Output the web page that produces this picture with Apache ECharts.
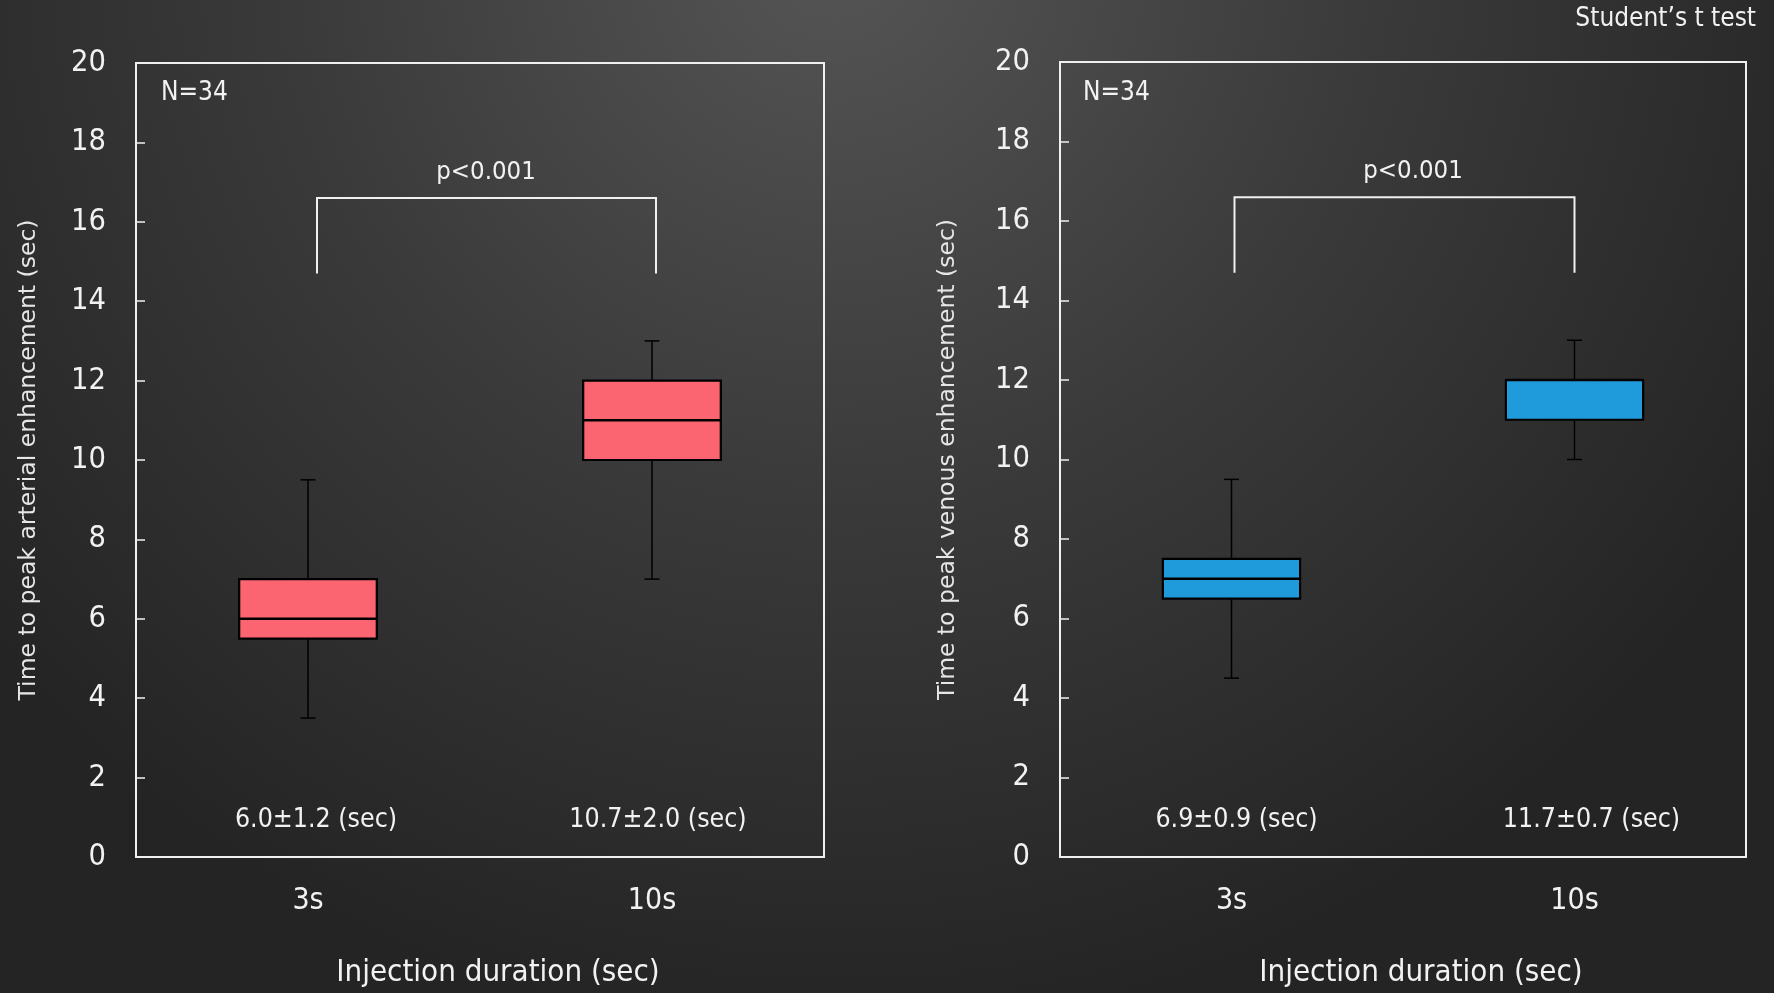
<!DOCTYPE html>
<html>
<head>
<meta charset="utf-8">
<script src="https://cdn.jsdelivr.net/npm/echarts@6/dist/echarts.min.js"></script>
<style>
html,body{margin:0;padding:0;background:#2a2a2a;}
#chart{width:1774px;height:993px;}
</style>
</head>
<body>
<div id="chart"></div>
<script>
// ---------- data ----------
const categories = ['3s', '10s'];
// [low whisker, Q1, median, Q3, high whisker]
const arterialBoxes = [
  [3.5, 5.5, 6.0, 7.0, 9.5],
  [7.0, 10.0, 11.0, 12.0, 13.0]
];
const venousBoxes = [
  [4.5, 6.5, 7.0, 7.5, 9.5],
  [10.0, 11.0, 12.0, 12.0, 13.0]
];
const arterialStats = ['6.0±1.2 (sec)', '10.7±2.0 (sec)'];
const venousStats = ['6.9±0.9 (sec)', '11.7±0.7 (sec)'];
const statsLevel = 0.92;
const pText = 'p<0.001';
const bracketTop = 16.6;
const bracketBottom = 14.7;
const pLevel = 17.25;
const nText = 'N=34';
const testText = 'Student\u2019s t test';
const yMin = 0, yMax = 20, yInterval = 2;
const xTitle = 'Injection duration (sec)';
const yTitleArterial = 'Time to peak arterial enhancement (sec)';
const yTitleVenous = 'Time to peak venous enhancement (sec)';

// ---------- styling / layout ----------
const FONT = "'DejaVu Sans Condensed', 'DejaVu Sans', sans-serif";
const WIDE = "'DejaVu Sans', sans-serif";
const TXT = '#f2f2f2';
const RED = '#fa6571';
const BLUE = '#1f9bdb';
const layout = {
  bracketOff: [[9, 4], [3, 0]],
  pOff: [6, 10],
  statsOff: [[8, 6], [5, 17]]
};

function boxRenderer(color) {
  return function (params, api) {
    const x = api.value(0);
    const lo = api.coord([x, api.value(1)]);
    const q1 = api.coord([x, api.value(2)]);
    const md = api.coord([x, api.value(3)]);
    const q3 = api.coord([x, api.value(4)]);
    const hi = api.coord([x, api.value(5)]);
    const bw = api.size([1, 0])[0] * 0.4;
    const cx = lo[0];
    const cap = 7.5;
    const ls = { stroke: '#000', lineWidth: 1.5 };
    return {
      type: 'group',
      children: [
        { type: 'line', shape: { x1: cx, y1: lo[1], x2: cx, y2: hi[1] }, style: ls },
        { type: 'line', shape: { x1: cx - cap, y1: lo[1], x2: cx + cap, y2: lo[1] }, style: ls },
        { type: 'line', shape: { x1: cx - cap, y1: hi[1], x2: cx + cap, y2: hi[1] }, style: ls },
        { type: 'rect', shape: { x: cx - bw / 2, y: q3[1], width: bw, height: q1[1] - q3[1] },
          style: { fill: color, stroke: '#000', lineWidth: 2.2 } },
        { type: 'line', shape: { x1: cx - bw / 2, y1: md[1], x2: cx + bw / 2, y2: md[1] },
          style: { stroke: '#000', lineWidth: 2.6 } }
      ]
    };
  };
}

function bracketRenderer(panel) {
  return function (params, api) {
    const off = layout.bracketOff[panel];
    const a = api.coord([api.value(0), api.value(2)]);
    const aB = api.coord([api.value(0), api.value(3)]);
    const b = api.coord([api.value(1), api.value(2)]);
    const bB = api.coord([api.value(1), api.value(3)]);
    const x1 = a[0] + off[0], x2 = b[0] + off[1];
    const pc = api.coord([api.value(0), api.value(4)]);
    return {
      type: 'group',
      children: [
        { type: 'polyline', shape: { points: [[x1, aB[1]], [x1, a[1]], [x2, b[1]], [x2, bB[1]]] },
          style: { stroke: '#f0f0f0', lineWidth: 2, fill: null } },
        { type: 'text', style: { text: pText, x: (a[0] + b[0]) / 2 + layout.pOff[panel], y: pc[1],
          fill: TXT, font: '25.5px ' + FONT, textAlign: 'center', textVerticalAlign: 'middle' } }
      ]
    };
  };
}

function statsRenderer(panel, labels) {
  return function (params, api) {
    const p = api.coord([api.value(0), api.value(1)]);
    return {
      type: 'text',
      style: { text: labels[params.dataIndex], x: p[0] + layout.statsOff[panel][params.dataIndex], y: p[1],
        fill: TXT, font: '26.5px ' + FONT, textAlign: 'center', textVerticalAlign: 'middle' }
    };
  };
}

function xAxisCfg(gi) {
  return {
    type: 'category', gridIndex: gi, data: categories, boundaryGap: true,
    axisLine: { lineStyle: { color: '#f0f0f0', width: 2 } },
    axisTick: { inside: true, length: 10, lineStyle: { color: '#f0f0f0', width: 1.5 } },
    axisLabel: { color: TXT, fontSize: 30, fontFamily: FONT, margin: 29 },
    name: xTitle, nameLocation: 'middle', nameGap: 100,
    nameTextStyle: { color: TXT, fontSize: 31, fontFamily: FONT, padding: [0, 0, 0, 36] }
  };
}
function yAxisCfg(gi, title, gap) {
  return {
    type: 'value', gridIndex: gi, min: yMin, max: yMax, interval: yInterval,
    axisLine: { show: true, lineStyle: { color: '#f0f0f0', width: 2 } },
    axisTick: { show: true, inside: true, length: 9, lineStyle: { color: '#f0f0f0', width: 1.5 } },
    splitLine: { show: false },
    axisLabel: { color: TXT, fontSize: 30.5, fontFamily: FONT, margin: 30 },
    name: title, nameLocation: 'middle', nameGap: gap, nameRotate: 90,
    nameTextStyle: { color: '#e6e6e6', fontSize: 23.5, fontFamily: WIDE }
  };
}

const chart = echarts.init(document.getElementById('chart'), null, { renderer: 'canvas' });
chart.setOption({
  animation: false,
  backgroundColor: {
    type: 'radial', x: 0.47, y: -0.05, r: 1.1,
    colorStops: [{ offset: 0, color: '#555555' }, { offset: 0.5, color: '#3a3a3a' }, { offset: 1, color: '#242424' }]
  },
  grid: [
    { left: 136, top: 63, width: 688, height: 796, show: true, borderColor: '#f0f0f0', borderWidth: 2, backgroundColor: 'transparent' },
    { left: 1060, top: 62, width: 686, height: 797, show: true, borderColor: '#f0f0f0', borderWidth: 2, backgroundColor: 'transparent' }
  ],
  xAxis: [xAxisCfg(0), xAxisCfg(1)],
  yAxis: [yAxisCfg(0, yTitleArterial, 95), yAxisCfg(1, yTitleVenous, 100)],
  graphic: [
    { type: 'text', left: 161, top: 80, style: { text: nText, fill: TXT, font: '26px ' + FONT } },
    { type: 'text', left: 1083, top: 80, style: { text: nText, fill: TXT, font: '26px ' + FONT } },
    { type: 'text', right: 18, top: 6, style: { text: testText, fill: TXT, font: '26px ' + FONT } }
  ],
  series: [
    { type: 'custom', xAxisIndex: 0, yAxisIndex: 0, renderItem: boxRenderer(RED),
      encode: { x: 0, y: [1, 2, 3, 4, 5] },
      data: arterialBoxes.map((b, i) => [i].concat(b)) },
    { type: 'custom', xAxisIndex: 1, yAxisIndex: 1, renderItem: boxRenderer(BLUE),
      encode: { x: 0, y: [1, 2, 3, 4, 5] },
      data: venousBoxes.map((b, i) => [i].concat(b)) },
    { type: 'custom', xAxisIndex: 0, yAxisIndex: 0, renderItem: bracketRenderer(0),
      encode: { x: [0, 1], y: [2, 3, 4] },
      data: [[0, 1, bracketTop, bracketBottom, pLevel]] },
    { type: 'custom', xAxisIndex: 1, yAxisIndex: 1, renderItem: bracketRenderer(1),
      encode: { x: [0, 1], y: [2, 3, 4] },
      data: [[0, 1, bracketTop, bracketBottom, pLevel]] },
    { type: 'custom', xAxisIndex: 0, yAxisIndex: 0, renderItem: statsRenderer(0, arterialStats),
      encode: { x: 0, y: 1 },
      data: arterialStats.map((s, i) => [i, statsLevel]) },
    { type: 'custom', xAxisIndex: 1, yAxisIndex: 1, renderItem: statsRenderer(1, venousStats),
      encode: { x: 0, y: 1 },
      data: venousStats.map((s, i) => [i, statsLevel]) }
  ]
});
</script>
</body>
</html>
